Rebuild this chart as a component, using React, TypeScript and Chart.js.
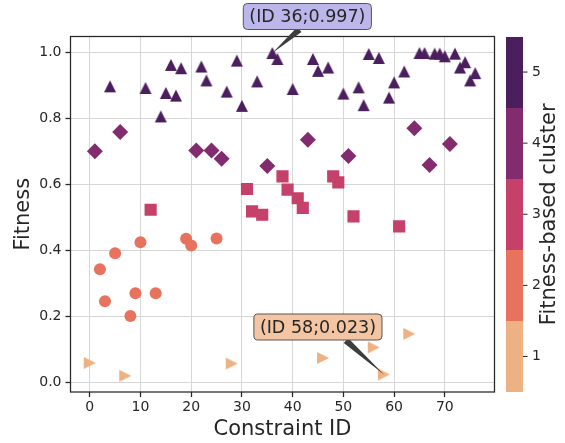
import React, { useEffect, useRef } from 'react';
import { Chart, registerables } from 'chart.js';

Chart.register(...registerables);

// ---- data ----
const clusterLabels = ['1', '2', '3', '4', '5'];
const clusterColors = ['#EDB183', '#E7735E', '#C5416A', '#822C6F', '#4B1E5D'];

const c1Ids = [0, 7, 28, 46, 56, 58, 63];
const c1Fit = [0.058, 0.019, 0.056, 0.073, 0.105, 0.023, 0.146];

const c2Ids = [2, 3, 5, 8, 9, 10, 13, 19, 20, 25];
const c2Fit = [0.342, 0.245, 0.39, 0.2, 0.269, 0.424, 0.269, 0.434, 0.414, 0.435];

const c3Ids = [12, 31, 32, 34, 38, 39, 41, 42, 48, 49, 52, 61];
const c3Fit = [0.522, 0.585, 0.517, 0.507, 0.623, 0.583, 0.557, 0.528, 0.623, 0.605, 0.502, 0.472];

const c4Ids = [1, 6, 21, 24, 26, 35, 43, 51, 64, 67, 71];
const c4Fit = [0.699, 0.758, 0.702, 0.702, 0.677, 0.655, 0.734, 0.685, 0.769, 0.658, 0.721];

const c5Ids = [4, 11, 14, 15, 16, 17, 18, 22, 23, 27, 29, 30, 33, 36, 37, 40, 44, 45, 47, 50, 53, 54, 55, 57, 59, 60, 62, 65, 66, 68, 69, 70, 72, 73, 74, 75, 76];
const c5Fit = [0.896, 0.891, 0.805, 0.876, 0.961, 0.868, 0.951, 0.956, 0.914, 0.88, 0.974, 0.837, 0.911, 0.997, 0.979, 0.888, 0.979, 0.943, 0.953, 0.874, 0.893, 0.839, 0.994, 0.982, 0.862, 0.908, 0.941, 0.997, 0.997, 0.995, 0.995, 0.987, 0.995, 0.953, 0.969, 0.914, 0.936];

const xTicks = [0, 10, 20, 30, 40, 50, 60, 70];
const yTicks = [0, 0.2, 0.4, 0.6, 0.8, 1.0];

// annotated constraints
const annotatedIds = [36, 58];
const annotationFills = ['#BCB7EA', '#F3C5A2'];

const INK = '#262626';
const FONT = '"DejaVu Sans", "Liberation Sans", sans-serif';

// matplotlib-like triangle marker (equal width/height, centred on its bounding box)
function makeTriangle(color: string, size: number): HTMLCanvasElement {
  const c = document.createElement('canvas');
  const W = Math.ceil(size) + 2;
  c.width = W;
  c.height = W;
  const g = c.getContext('2d')!;
  const m = W / 2;
  const h = size / 2;
  g.beginPath();
  g.moveTo(m, m - h);
  g.lineTo(m - h, m + h);
  g.lineTo(m + h, m + h);
  g.closePath();
  g.fillStyle = color;
  g.fill();
  return c;
}

export default function App() {
  const ref = useRef<HTMLCanvasElement>(null);

  useEffect(() => {
    const canvas = ref.current;
    if (!canvas) return;
    Chart.defaults.font.family = FONT;

    const groups = [
      { ids: c1Ids, fit: c1Fit, style: makeTriangle(clusterColors[0], 12) as any, rotation: 90, radius: 7 },
      { ids: c2Ids, fit: c2Fit, style: 'circle', rotation: 0, radius: 6 },
      { ids: c3Ids, fit: c3Fit, style: 'rect', rotation: 0, radius: 8.6 },
      { ids: c4Ids, fit: c4Fit, style: 'rectRot', rotation: 0, radius: 8 },
      { ids: c5Ids, fit: c5Fit, style: makeTriangle(clusterColors[4], 12) as any, rotation: 0, radius: 7 },
    ];

    const allIds = [...c1Ids, ...c2Ids, ...c3Ids, ...c4Ids, ...c5Ids];
    const allFit = [...c1Fit, ...c2Fit, ...c3Fit, ...c4Fit, ...c5Fit];
    const fitOf = (id: number) => allFit[allIds.indexOf(id)];

    // layout of the annotation boxes relative to their points (pixels)
    const annLayout = [
      { boxDx: 35, boxDy: -36.5, baseDx: 27, baseDy: -23.5 },
      { boxDx: -66, boxDy: -47.5, baseDx: -38, baseDy: -34 },
    ];

    const extras = {
      id: 'extras',
      afterDraw(chart: any) {
        const { ctx, chartArea: a, scales } = chart;
        ctx.save();
        // spines
        ctx.strokeStyle = INK;
        ctx.lineWidth = 1.25;
        ctx.strokeRect(a.left, a.top, a.right - a.left, a.bottom - a.top);

        // colorbar
        const cbL = Math.round(a.right + 11);
        const cbW = 17;
        const n = clusterLabels.length;
        const segH = (a.bottom - a.top) / n;
        clusterLabels.forEach((lab, i) => {
          const y0 = a.bottom - (i + 1) * segH;
          ctx.fillStyle = clusterColors[i];
          ctx.fillRect(cbL, Math.round(y0), cbW, Math.round(y0 + segH) - Math.round(y0));
        });
        clusterLabels.forEach((lab, i) => {
          const yc = a.bottom - (i + 0.5) * segH;
          ctx.beginPath();
          ctx.moveTo(cbL + cbW, yc);
          ctx.lineTo(cbL + cbW + 4.5, yc);
          ctx.strokeStyle = INK;
          ctx.lineWidth = 1;
          ctx.stroke();
          ctx.fillStyle = INK;
          ctx.font = `14px ${FONT}`;
          ctx.textAlign = 'left';
          ctx.textBaseline = 'middle';
          ctx.fillText(lab, cbL + cbW + 9, yc);
        });
        ctx.save();
        ctx.translate(550, (a.top + a.bottom) / 2);
        ctx.rotate(-Math.PI / 2);
        ctx.font = `21px ${FONT}`;
        ctx.fillStyle = INK;
        ctx.textAlign = 'center';
        ctx.textBaseline = 'middle';
        ctx.fillText('Fitness-based cluster', 0, 0);
        ctx.restore();

        // annotations
        annotatedIds.forEach((id, k) => {
          const v = fitOf(id);
          const px = scales.x.getPixelForValue(id);
          const py = scales.y.getPixelForValue(v);
          const L = annLayout[k];
          const text = `(ID ${id};${v.toFixed(3)})`;
          ctx.font = `17.5px ${FONT}`;
          const tw = ctx.measureText(text).width;
          const bw = tw + 12;
          const bh = 26;
          const cx = px + L.boxDx;
          const cy = py + L.boxDy;
          // wedge
          const bx = px + L.baseDx;
          const by = py + L.baseDy;
          const dx = px - bx;
          const dy = py - by;
          const len = Math.hypot(dx, dy);
          const nx = -dy / len;
          const ny = dx / len;
          const hw = 3.2;
          ctx.beginPath();
          ctx.moveTo(bx + nx * hw, by + ny * hw);
          ctx.lineTo(px, py);
          ctx.lineTo(bx - nx * hw, by - ny * hw);
          ctx.closePath();
          ctx.fillStyle = '#3d3d3d';
          ctx.fill();
          // box
          ctx.beginPath();
          ctx.roundRect(cx - bw / 2, cy - bh / 2, bw, bh, 4);
          ctx.fillStyle = annotationFills[k];
          ctx.fill();
          ctx.strokeStyle = '#555555';
          ctx.lineWidth = 1;
          ctx.stroke();
          ctx.fillStyle = INK;
          ctx.textAlign = 'center';
          ctx.textBaseline = 'middle';
          ctx.fillText(text, cx, cy + 1);
        });
        ctx.restore();
      },
    };

    const chart = new Chart(canvas, {
      type: 'scatter',
      data: {
        datasets: groups.map((g, i) => ({
          label: clusterLabels[i],
          data: g.ids.map((id, j) => ({ x: id, y: g.fit[j] })),
          pointStyle: g.style as any,
          rotation: g.rotation,
          pointRadius: g.radius,
          pointHoverRadius: g.radius,
          backgroundColor: clusterColors[i],
          borderColor: clusterColors[i],
          borderWidth: 0,
        })),
      },
      options: {
        responsive: false,
        animation: false,
        events: [],
        layout: { padding: { left: 0, top: 36.5, right: 70.5, bottom: 0 } },
        plugins: { legend: { display: false }, tooltip: { enabled: false } },
        scales: {
          x: {
            type: 'linear',
            min: -3.8,
            max: 79.8,
            afterBuildTicks: (s: any) => {
              s.ticks = xTicks.map((v) => ({ value: v }));
            },
            afterFit: (s: any) => {
              s.height = 51;
            },
            grid: { color: '#d6d6d6', lineWidth: 1, tickLength: 5, tickColor: INK, tickWidth: 1.25 },
            border: { display: false },
            ticks: { font: { size: 14 }, color: INK, padding: 2, maxRotation: 0, autoSkip: false },
            title: {
              display: true,
              text: 'Constraint ID',
              font: { size: 21 },
              color: INK,
              padding: { top: 0, bottom: 1 },
            },
          },
          y: {
            type: 'linear',
            min: -0.03,
            max: 1.047,
            afterBuildTicks: (s: any) => {
              s.ticks = yTicks.map((v) => ({ value: v }));
            },
            afterFit: (s: any) => {
              s.width = 70.5;
            },
            grid: { color: '#d6d6d6', lineWidth: 1, tickLength: 5, tickColor: INK, tickWidth: 1.25 },
            border: { display: false },
            ticks: {
              font: { size: 14 },
              color: INK,
              padding: 4,
              autoSkip: false,
              callback: (v: any) => Number(v).toFixed(1),
            },
            title: {
              display: true,
              text: 'Fitness',
              font: { size: 21 },
              color: INK,
              padding: { top: 11, bottom: 0 },
            },
          },
        },
      },
      plugins: [extras],
    });

    return () => chart.destroy();
  }, []);

  return (
    <div style={{ position: 'absolute', left: 0, top: 0, width: 565, height: 443, background: '#ffffff' }}>
      <canvas ref={ref} width={565} height={443} style={{ display: 'block' }} />
    </div>
  );
}
